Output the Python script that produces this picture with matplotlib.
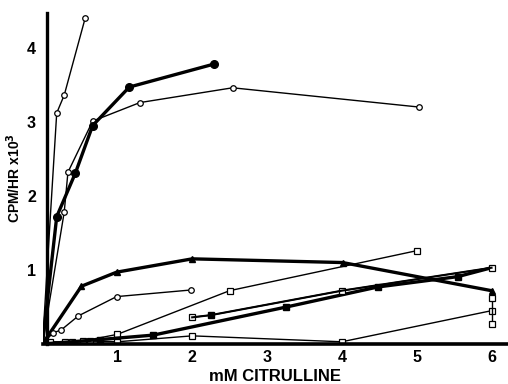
import matplotlib
matplotlib.use("Agg")
import matplotlib.pyplot as plt

# data (mM citrulline vs CPM/HR x10^3)
steep_x = [0, 0.19, 0.29, 0.57]
steep_y = [0, 3.12, 3.36, 4.40]

fcirc_x = [0, 0.19, 0.44, 0.67, 1.16, 2.29]
fcirc_y = [0, 1.72, 2.31, 2.95, 3.47, 3.78]

ocirc_x = [0, 0.29, 0.34, 0.67, 1.30, 2.54, 5.03]
ocirc_y = [0, 1.78, 2.32, 3.01, 3.26, 3.46, 3.20]

tri_x = [0, 0.52, 0.99, 2.00, 4.01, 6.00]
tri_y = [0, 0.78, 0.97, 1.15, 1.10, 0.72]

olow_x = [0, 0.14, 0.25, 0.48, 0.99, 1.99]
olow_y = [0, 0.15, 0.19, 0.38, 0.64, 0.73]

sqa_x = [0, 0.10, 0.30, 0.54, 1.00, 2.50, 5.00]
sqa_y = [0, 0.03, 0.03, 0.04, 0.13, 0.72, 1.26]

sqbot_x = [0, 0.39, 0.63, 1.00, 2.00, 4.00, 6.00]
sqbot_y = [0, 0.03, 0.04, 0.03, 0.11, 0.03, 0.45]

sqbar_x = [6.0, 6.0]
sqbar_y = [0.27, 0.62]

fsq_x = [0, 0.77, 1.48, 3.26, 4.48, 5.55, 6.00]
fsq_y = [0, 0.06, 0.12, 0.50, 0.77, 0.91, 1.03]

sqb_x = [2.00, 2.25, 4.00, 6.00]
sqb_y = [0.36, 0.39, 0.72, 1.03]

x_ticks = [1, 2, 3, 4, 5, 6]
y_ticks = [1, 2, 3, 4]

plt.rcParams["font.family"] = ["Liberation Sans", "DejaVu Sans"]
plt.rcParams["font.weight"] = "bold"

fig = plt.figure(figsize=(5.08, 3.84), dpi=100)
ax = fig.add_axes([42.5 / 508, 40 / 384, 465.5 / 508, 331 / 384])

K = "black"
thin = 1.0
thick = 2.4
open_c = dict(marker="o", ms=4, mfc="white", mec=K, mew=0.9)
open_s = dict(marker="s", ms=4, mfc="white", mec=K, mew=0.9)

ax.plot(steep_x, steep_y, "-", color=K, lw=thin, markevery=[1, 2, 3], **open_c)
ax.plot(ocirc_x, ocirc_y, "-", color=K, lw=thin, markevery=list(range(1, 7)), **open_c)
ax.plot(fcirc_x, fcirc_y, "-", color=K, lw=thick, marker="o", ms=5.5,
        markevery=list(range(1, 6)))
ax.plot(tri_x, tri_y, "-", color=K, lw=thick, marker="^", ms=4.5,
        markevery=list(range(1, 6)))
ax.plot(olow_x, olow_y, "-", color=K, lw=thin, markevery=list(range(1, 6)), **open_c)
ax.plot(sqa_x, sqa_y, "-", color=K, lw=thin, markevery=list(range(1, 7)), **open_s)
ax.plot(sqbot_x, sqbot_y, "-", color=K, lw=thin, markevery=list(range(1, 7)), **open_s)
ax.plot(sqbar_x, sqbar_y, "-", color=K, lw=thin, **open_s)
ax.plot(fsq_x, fsq_y, "-", color=K, lw=thick, marker="s", ms=5,
        markevery=[1, 2, 3, 4, 5])
ax.plot(sqb_x, sqb_y, "-", color=K, lw=thin, markevery=[0, 2, 3], **open_s)
ax.plot(sqb_x, sqb_y, "none", color=K, marker="s", ms=5, markevery=[1])

ax.set_xlim(0, 6.22)
ax.set_ylim(0, 4.47)

ax.spines["top"].set_visible(False)
ax.spines["right"].set_visible(False)
ax.spines["left"].set_position(("data", 0.06))
ax.spines["left"].set_linewidth(2.4)
ax.spines["bottom"].set_linewidth(2.6)

ax.set_xticks(x_ticks)
ax.set_xticklabels([str(t) for t in x_ticks], fontsize=11.5, fontweight="bold")
ax.set_yticks(y_ticks)
ax.set_yticklabels([str(t) for t in y_ticks], fontsize=11.5, fontweight="bold")
ax.tick_params(axis="both", length=0)
ax.tick_params(axis="x", pad=4)
ax.tick_params(axis="y", pad=8)

ax.set_xlabel("mM CITRULLINE", fontsize=12, fontweight="bold", labelpad=3)
ax.set_ylabel("CPM/HR x10$^{\\mathbf{3}}$", fontsize=10, fontweight="bold", labelpad=3)

fig.savefig("out.png", dpi=100)
